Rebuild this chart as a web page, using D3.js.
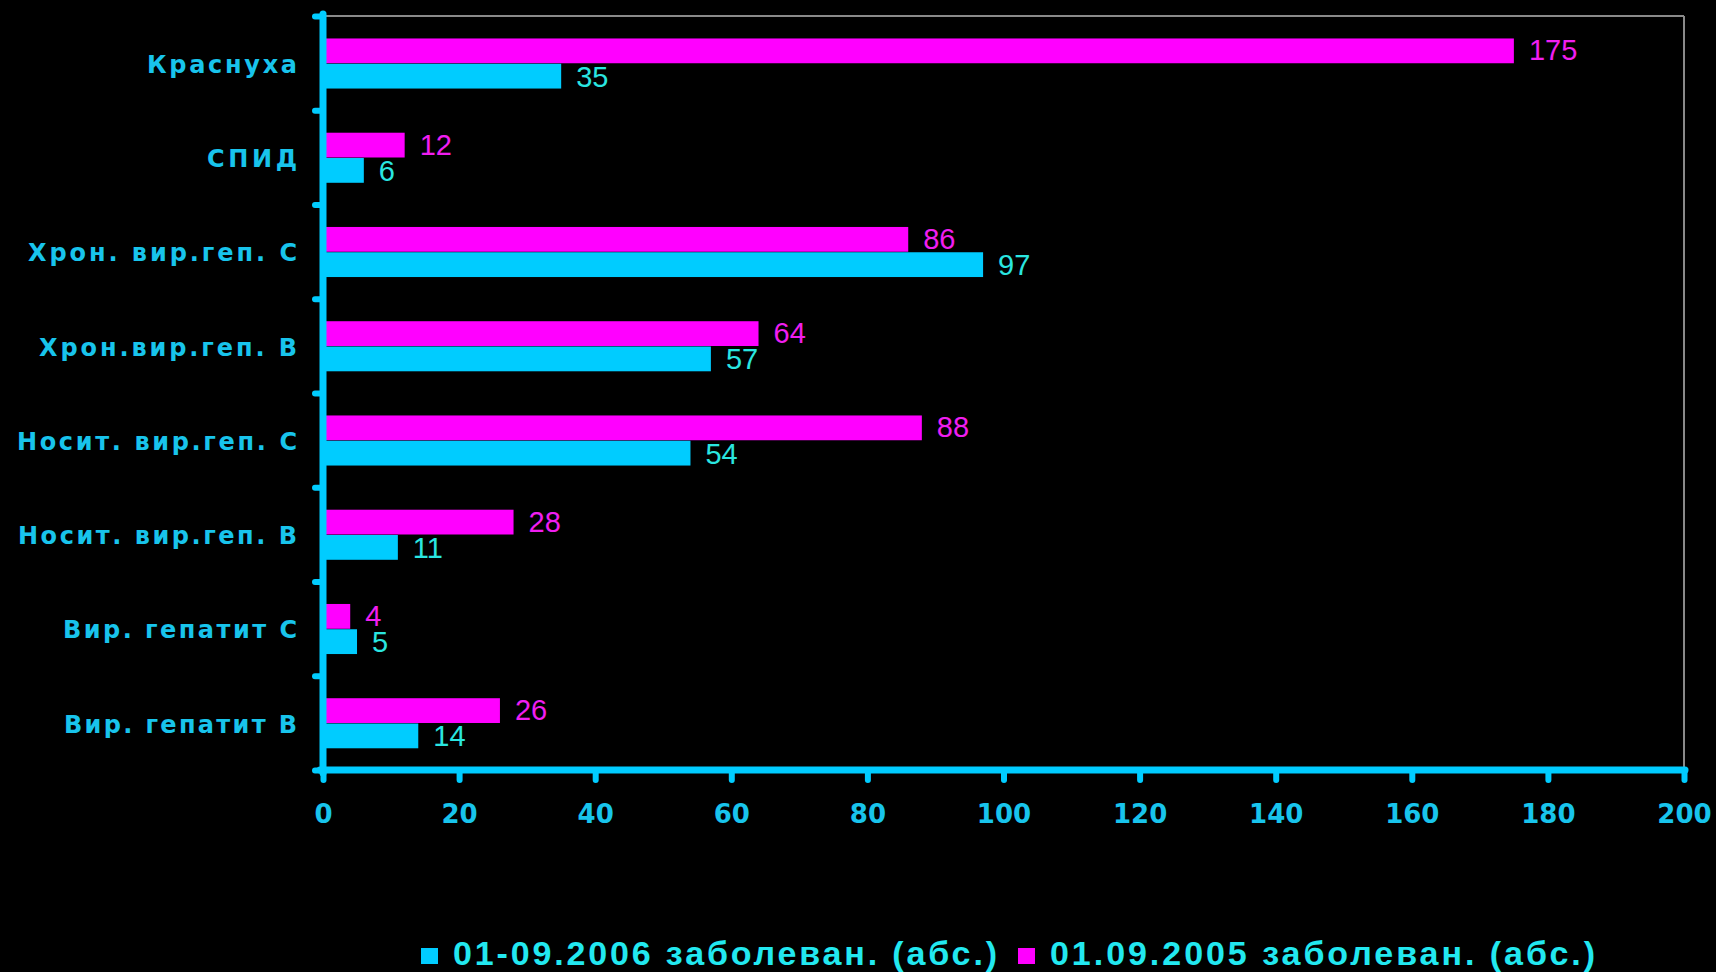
<!DOCTYPE html>
<html>
<head>
<meta charset="utf-8">
<script src="https://cdn.jsdelivr.net/npm/d3@7"></script>
<style>
  html, body { margin: 0; padding: 0; background: #000; }
  svg { display: block; }
</style>
</head>
<body>
<svg id="chart" width="1716" height="972"></svg>
<script>
const categories = ["Краснуха", "СПИД", "Хрон. вир.геп. С", "Хрон.вир.геп. В", "Носит. вир.геп. С", "Носит. вир.геп. В", "Вир. гепатит С", "Вир. гепатит В"];
const values2005 = [175, 12, 86, 64, 88, 28, 4, 26];
const values2006 = [35, 6, 97, 57, 54, 11, 5, 14];
const seriesNames = ["01.09.2005 заболеван. (абс.)", "01-09.2006 заболеван. (абс.)"];
const xTicks = [0, 20, 40, 60, 80, 100, 120, 140, 160, 180, 200];
const labelWidths = [150, 90, 269, 258, 280, 279, 234, 233];

(function () {
const svg = d3.select("#chart");
const W = 1716, H = 972;
svg.append("rect").attr("width", W).attr("height", H).attr("fill", "#000");

const pLeft = 323, pRight = 1684, pTop = 16, pBottom = 770;
const x = d3.scaleLinear().domain([0, 200]).range([pLeft, pRight]);
const y0 = d3.scaleBand().domain(categories).range([pTop, pBottom]).padding(0);
const step = y0.step();
const y1 = d3.scaleBand().domain(["s2005", "s2006"]).range([step * 0.233, step * 0.775]).padding(0.02);

const CYAN = "#00CCFF", MAG = "#FF00FF";
const AXIS_TXT = "#18C4EC";

// frame lines (top & right, gray)
svg.append("line").attr("x1", pLeft).attr("x2", pRight).attr("y1", pTop).attr("y2", pTop)
  .attr("stroke", "#8a8a8a").attr("stroke-width", 2);
svg.append("line").attr("x1", pRight).attr("x2", pRight).attr("y1", pTop).attr("y2", pBottom)
  .attr("stroke", "#8a8a8a").attr("stroke-width", 2);

// bars
const data = categories.map((c, i) => ({ c, v2005: values2005[i], v2006: values2006[i] }));
const g = svg.append("g");
const valFont = "29px 'Liberation Sans', Arial, sans-serif";
data.forEach(d => {
  const by = y0(d.c);
  g.append("rect").attr("x", x(0)).attr("y", by + y1("s2005"))
    .attr("width", x(d.v2005) - x(0)).attr("height", y1.bandwidth()).attr("fill", MAG);
  g.append("rect").attr("x", x(0)).attr("y", by + y1("s2006"))
    .attr("width", x(d.v2006) - x(0)).attr("height", y1.bandwidth()).attr("fill", CYAN);
  g.append("text").attr("x", x(d.v2005) + 15).attr("y", by + y1("s2005") + y1.bandwidth() / 2 - 1)
    .attr("dy", "0.36em").attr("fill", "#F01EF0")
    .style("font", valFont).text(d.v2005);
  g.append("text").attr("x", x(d.v2006) + 15).attr("y", by + y1("s2006") + y1.bandwidth() / 2)
    .attr("dy", "0.36em").attr("fill", "#2AE6E0")
    .style("font", valFont).text(d.v2006);
});

// x axis
const xAxis = d3.axisBottom(x).tickValues(xTicks).tickSize(10).tickPadding(25).tickFormat(d3.format("d"));
const gx = svg.append("g").attr("transform", `translate(0,${pBottom})`).call(xAxis);
gx.select(".domain").remove();
gx.selectAll(".tick line").attr("stroke", CYAN).attr("stroke-width", 6).attr("stroke-linecap", "round");
gx.selectAll(".tick text").attr("fill", AXIS_TXT)
  .style("font", "bold 26px 'DejaVu Sans', Verdana, sans-serif");

// y axis nubs at band boundaries
const yIdx = d3.scaleLinear().domain([0, categories.length]).range([pTop, pBottom]);
const yAxis = d3.axisLeft(yIdx).tickValues(d3.range(0, categories.length + 1)).tickSize(8).tickFormat("");
const gy = svg.append("g").attr("transform", `translate(${pLeft},0)`).call(yAxis);
gy.select(".domain").remove();
gy.selectAll(".tick line").attr("stroke", CYAN).attr("stroke-width", 6).attr("stroke-linecap", "round");

// axis lines (thick)
svg.append("line").attr("x1", pLeft).attr("x2", pLeft).attr("y1", pTop - 2).attr("y2", pBottom + 3)
  .attr("stroke", CYAN).attr("stroke-width", 7).attr("stroke-linecap", "round");
svg.append("line").attr("x1", pLeft - 3).attr("x2", pRight + 1).attr("y1", pBottom).attr("y2", pBottom)
  .attr("stroke", CYAN).attr("stroke-width", 7).attr("stroke-linecap", "round");

// category labels
categories.forEach((c, i) => {
  svg.append("text").attr("x", 297).attr("y", y0(c) + step / 2 + 1).attr("dy", "0.36em")
    .attr("text-anchor", "end").attr("fill", AXIS_TXT)
    .attr("textLength", labelWidths[i]).attr("lengthAdjust", "spacing")
    .style("font", "bold 24px 'DejaVu Sans', Verdana, sans-serif").text(c);
});

// legend
const legend = [
  { name: seriesNames[1], color: CYAN, sx: 421, tx: 453, w: 544 },
  { name: seriesNames[0], color: MAG, sx: 1018, tx: 1050, w: 545 }
];
legend.forEach(l => {
  svg.append("rect").attr("x", l.sx).attr("y", 948).attr("width", 17).attr("height", 16).attr("fill", l.color);
  svg.append("text").attr("x", l.tx).attr("y", 965).attr("fill", "#22E8F0")
    .attr("textLength", l.w).attr("lengthAdjust", "spacing")
    .style("font", "bold 34px 'Liberation Sans', Arial, sans-serif").text(l.name);
});
})();
</script>
</body>
</html>
